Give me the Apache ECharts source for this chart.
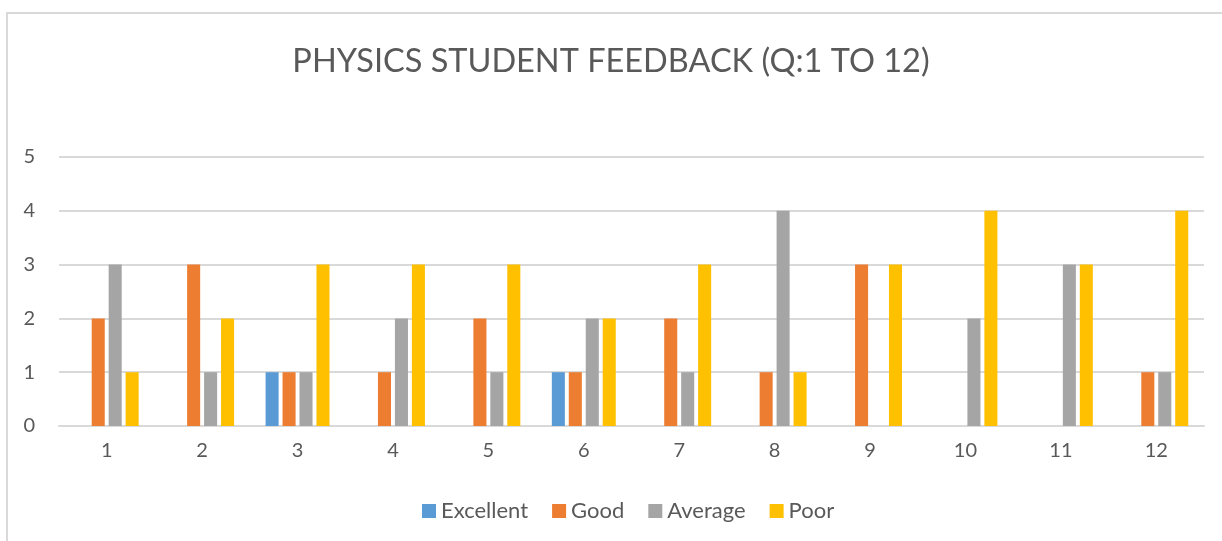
<!DOCTYPE html>
<html>
<head>
<meta charset="utf-8">
<script src="https://cdn.jsdelivr.net/npm/echarts@6/dist/echarts.min.js"></script>
<style>
html,body{margin:0;padding:0;background:#fff;}
#chart{width:1222px;height:541px;}
</style>
</head>
<body>
<div id="chart"></div>
<script>
const categories = ['1','2','3','4','5','6','7','8','9','10','11','12'];
const excellent = [0,0,1,0,0,1,0,0,0,0,0,0];
const good      = [2,3,1,1,2,1,2,1,3,0,0,1];
const average   = [3,1,1,2,1,2,1,4,0,2,3,1];
const poor      = [1,2,3,3,3,2,3,1,3,4,3,4];
const seriesNames = ['Excellent','Good','Average','Poor'];
const colors = ['#5b9bd5','#ed7d31','#a5a5a5','#ffc000'];

const FONT = 'Lato, "Open Sans", sans-serif';
const chart = echarts.init(document.getElementById('chart'), null, {renderer:'canvas'});
const dataSets = [excellent, good, average, poor];
chart.setOption({
  animation:false,
  backgroundColor:'#fff',
  color: colors,
  graphic:[{type:'rect', shape:{x:7,y:13,width:1300,height:600}, style:{fill:'none', stroke:'#d9d9d9', lineWidth:2}, silent:true}],
  title:{text:'PHYSICS STUDENT FEEDBACK (Q:1 TO 12)', left:'center', top:40,
    textStyle:{fontFamily:FONT, fontSize:32.5, fontWeight:'normal', color:'#595959'}},
  legend:{bottom:14, left:417, itemWidth:14, itemHeight:14, itemGap:24, icon:'rect',
    textStyle:{fontFamily:FONT, fontSize:22, color:'#595959'}, data:seriesNames},
  grid:{left:59, right:18, top:157, bottom:115},
  xAxis:{type:'category', data:categories,
    axisLine:{lineStyle:{color:'#d9d9d9', width:2}}, axisTick:{show:false},
    axisLabel:{fontFamily:FONT, fontSize:20, color:'#595959', margin:15}},
  yAxis:{type:'value', min:0, max:5, interval:1,
    axisLine:{show:false}, axisTick:{show:false},
    splitLine:{lineStyle:{color:'#d9d9d9', width:2}},
    axisLabel:{fontFamily:FONT, fontSize:20, color:'#595959', margin:24}},
  series: seriesNames.map((n,i)=>({
    name:n, type:'bar', data:dataSets[i], barGap:'30%', barCategoryGap:'33%',
    itemStyle:{color:colors[i]}
  }))
});
</script>
</body>
</html>
